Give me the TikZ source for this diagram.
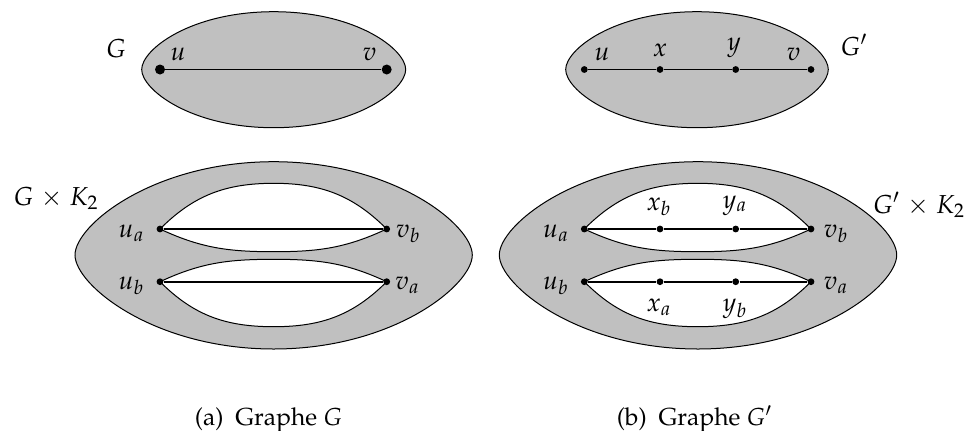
\documentclass[tikz,border=0pt]{standalone}
\usepackage[T1]{fontenc}
\usepackage{mathpazo}
\definecolor{shade}{RGB}{192,192,192}
\tikzset{
  lens/.style={fill=shade, draw=black, line width=0.5pt},
  hole/.style={fill=white, draw=black, line width=0.5pt},
  edgeline/.style={line width=0.9pt},
  bigdot/.style={circle, fill=black, inner sep=0pt, minimum size=5pt},
  smalldot/.style={circle, fill=black, inner sep=0pt, minimum size=3.4pt},
  lbl/.style={anchor=base, inner sep=0pt, font=\fontsize{13}{15}\selectfont},
  captext/.style={anchor=base, inner sep=0pt, font=\fontsize{12.3}{14}\selectfont},
}
\newcommand{\prodsym}{\mathbin{\mkern1.5mu\times\mkern1.5mu}}
\begin{document}
\begin{tikzpicture}[x=0.5pt,y=-0.5pt]
\useasboundingbox (0,0) rectangle (969,430);

% ---------- (a) top: G ----------
\path[lens] (141.7,69.5) .. controls (141.7,49.5) and (190.7,11.7) .. (273.7,11.7)
  .. controls (356.7,11.7) and (405.7,49.5) .. (405.7,69.5)
  .. controls (405.7,89.5) and (356.7,127.7) .. (273.7,127.7)
  .. controls (190.7,127.7) and (141.7,89.5) .. (141.7,69.5) -- cycle;
\node[bigdot] (gu) at (160,69.5) {};
\node[bigdot] (gv) at (386.7,69.5) {};
\draw[edgeline] (gu) -- (gv);
\node[lbl] (lG) at (116,57.5) {$G$};
\node[lbl] (lgu) at (178,60) {$u$};
\node[lbl] (lgv) at (369.5,60) {$v$};

% ---------- (b) top: G' ----------
\path[lens] (565.7,69.5) .. controls (565.7,49.5) and (614,11.7) .. (697,11.7)
  .. controls (780,11.7) and (828.3,49.5) .. (828.3,69.5)
  .. controls (828.3,89.5) and (780,127.7) .. (697,127.7)
  .. controls (614,127.7) and (565.7,89.5) .. (565.7,69.5) -- cycle;
\node[smalldot] (hu) at (584.3,69.5) {};
\node[smalldot] (hx) at (660,69.5) {};
\node[smalldot] (hy) at (735.7,69.5) {};
\node[smalldot] (hv) at (811,69.5) {};
\draw[edgeline] (hu) -- (hx) -- (hy) -- (hv);
\node[lbl] (lGp) at (854,55) {$G'$};
\node[lbl] (lhu) at (602,60) {$u$};
\node[lbl] (lhx) at (660,56.7) {$x$};
\node[lbl] (lhy) at (734,50.5) {$y$};
\node[lbl] (lhv) at (793.5,60) {$v$};

% ---------- (a) bottom: G x K2 ----------
\path[lens] (75,255) .. controls (75,225) and (153.7,161.7) .. (273.7,161.7)
  .. controls (393.7,161.7) and (472.3,225) .. (472.3,255)
  .. controls (472.3,285) and (393.7,349) .. (273.7,349)
  .. controls (153.7,349) and (75,285) .. (75,255) -- cycle;
\path[hole] (160,229) to[out=45,in=180] (273.7,183.3) to[out=0,in=135] (386.7,229)
  to[out=-155,in=0] (273.7,251.7) to[out=180,in=-25] (160,229) -- cycle;
\path[hole] (160,281.7) to[out=25,in=180] (273.7,259.3) to[out=0,in=155] (386.7,281.7)
  to[out=-135,in=0] (273.7,326.7) to[out=180,in=-45] (160,281.7) -- cycle;
\node[smalldot] (pua) at (160,229) {};
\node[smalldot] (pvb) at (386.7,229) {};
\node[smalldot] (pub) at (160,281.7) {};
\node[smalldot] (pva) at (386.7,281.7) {};
\draw[edgeline] (pua) -- (pvb);
\draw[edgeline] (pub) -- (pva);
\node[lbl] (lGK) at (56,205) {$G\prodsym K_2$};
\node[lbl] (lpua) at (131.5,237.3) {$u_a$};
\node[lbl] (lpvb) at (408.3,237.3) {$v_b$};
\node[lbl] (lpub) at (131.5,289.3) {$u_b$};
\node[lbl] (lpva) at (407.5,289.3) {$v_a$};

% ---------- (b) bottom: G' x K2 ----------
\path[lens] (499.3,255) .. controls (499.3,225) and (578,161.7) .. (698,161.7)
  .. controls (818,161.7) and (896.7,225) .. (896.7,255)
  .. controls (896.7,285) and (818,349) .. (698,349)
  .. controls (578,349) and (499.3,285) .. (499.3,255) -- cycle;
\path[hole] (584.3,229) to[out=45,in=180] (697.7,183.3) to[out=0,in=135] (811,229)
  to[out=-155,in=0] (697.7,251.7) to[out=180,in=-25] (584.3,229) -- cycle;
\path[hole] (584.3,281.7) to[out=25,in=180] (697.7,259.3) to[out=0,in=155] (811,281.7)
  to[out=-135,in=0] (697.7,326.7) to[out=180,in=-45] (584.3,281.7) -- cycle;
\node[smalldot] (qua) at (584.3,229) {};
\node[smalldot] (qxb) at (660,229) {};
\node[smalldot] (qya) at (735.7,229) {};
\node[smalldot] (qvb) at (811,229) {};
\node[smalldot] (qub) at (584.3,281.7) {};
\node[smalldot] (qxa) at (660,281.7) {};
\node[smalldot] (qyb) at (735.7,281.7) {};
\node[smalldot] (qva) at (811,281.7) {};
\draw[edgeline] (qua) -- (qxb) -- (qya) -- (qvb);
\draw[edgeline] (qub) -- (qxa) -- (qyb) -- (qva);
\node[lbl] (lGpK) at (919,213) {$G'\prodsym K_2$};
\node[lbl] (lqua) at (556,237.3) {$u_a$};
\node[lbl] (lqvb) at (836,237.3) {$v_b$};
\node[lbl] (lqub) at (556,289.3) {$u_b$};
\node[lbl] (lqva) at (836,289.3) {$v_a$};
\node[lbl] (lqxb) at (659,210) {$x_b$};
\node[lbl] (lqya) at (735,208) {$y_a$};
\node[lbl] (lqxa) at (659,311.7) {$x_a$};
\node[lbl] (lqyb) at (735,311.7) {$y_b$};

% ---------- captions ----------
\node[captext] (capa) at (268.5,425) {(a)\hspace{6pt}Graphe $G$};
\node[captext] (capb) at (694.5,425) {(b)\hspace{6pt}Graphe $G'$};
\end{tikzpicture}
\end{document}
